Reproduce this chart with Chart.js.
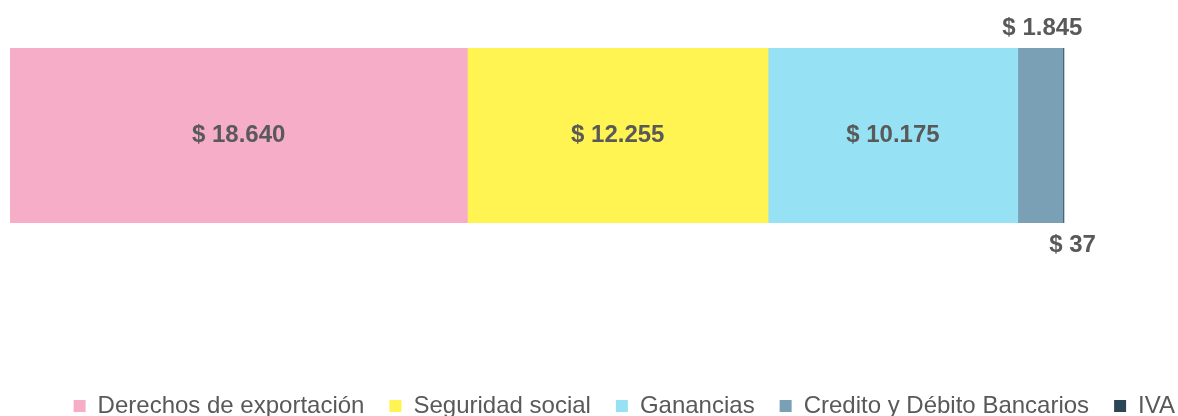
<!DOCTYPE html>
<html>
<head>
<meta charset="utf-8">
<script src="https://cdn.jsdelivr.net/npm/chart.js@4/dist/chart.umd.min.js"></script>
<style>
  html, body { margin: 0; padding: 0; background: #fff; }
  #wrap { width: 1178px; height: 416px; }
</style>
</head>
<body>
<div id="wrap"><canvas id="taxChart"></canvas></div>
<script>
// DATA
const categories = ['Recaudación'];
const seriesNames = ['Derechos de exportación', 'Seguridad social', 'Ganancias', 'Credito y Débito Bancarios', 'IVA'];
const seriesValues = [18640, 12255, 10175, 1845, 37];
const seriesColors = ['#F6AEC8', '#FFF451', '#96E2F4', '#79A0B4', '#2D4656'];

const labelColor = '#595959';

function formatPesos(v) {
    return '$ ' + String(v).replace(/\B(?=(\d{3})+(?!\d))/g, '.');
}

// draws the "$ x" labels on each segment, small ones go outside the bar
const valueLabels = {
    id: 'valueLabels',
    afterDatasetsDraw(chart) {
        const ctx = chart.ctx;
        ctx.save();
        ctx.font = 'bold 24px "Liberation Sans", Arial, sans-serif';
        ctx.fillStyle = labelColor;
        ctx.textAlign = 'center';
        ctx.textBaseline = 'middle';
        chart.data.datasets.forEach(function (ds, i) {
            const bar = chart.getDatasetMeta(i).data[0];
            const half = bar.height / 2;
            let x = (bar.x + bar.base) / 2;
            let y = bar.y;
            if (i === 3) { // too thin -> above
                x += 2;
                y = bar.y - half - 20;
            } else if (i === 4) { // too thin -> below
                x += 9;
                y = bar.y + half + 22;
            }
            ctx.fillText(formatPesos(ds.data[0]), x, y);
        });
        ctx.restore();
    }
};

const datasets = seriesNames.map(function (name, i) {
    return {
        label: name,
        data: [seriesValues[i]],
        backgroundColor: seriesColors[i],
        borderWidth: 0,
        barPercentage: 1,
        categoryPercentage: 1
    };
});

const taxChart = new Chart(document.getElementById('taxChart'), {
    type: 'bar',
    data: {
        labels: categories,
        datasets: datasets
    },
    options: {
        indexAxis: 'y',
        responsive: true,
        maintainAspectRatio: false,
        animation: false,
        layout: {
            padding: { left: 10, right: -22, top: 48, bottom: -12 }
        },
        scales: {
            x: {
                stacked: true,
                min: 0,
                max: 47600,
                ticks: { display: false },
                grid: { display: false },
                border: { display: false },
                afterFit: function (scale) { scale.height = 146; }
            },
            y: {
                stacked: true,
                display: false
            }
        },
        plugins: {
            tooltip: { enabled: false },
            legend: {
                position: 'bottom',
                align: 'end',
                labels: {
                    boxWidth: 12,
                    boxHeight: 12,
                    padding: 25,
                    color: labelColor,
                    font: { family: '"Liberation Sans", Arial, sans-serif', size: 24 }
                }
            }
        }
    },
    plugins: [valueLabels]
});
</script>
</body>
</html>
